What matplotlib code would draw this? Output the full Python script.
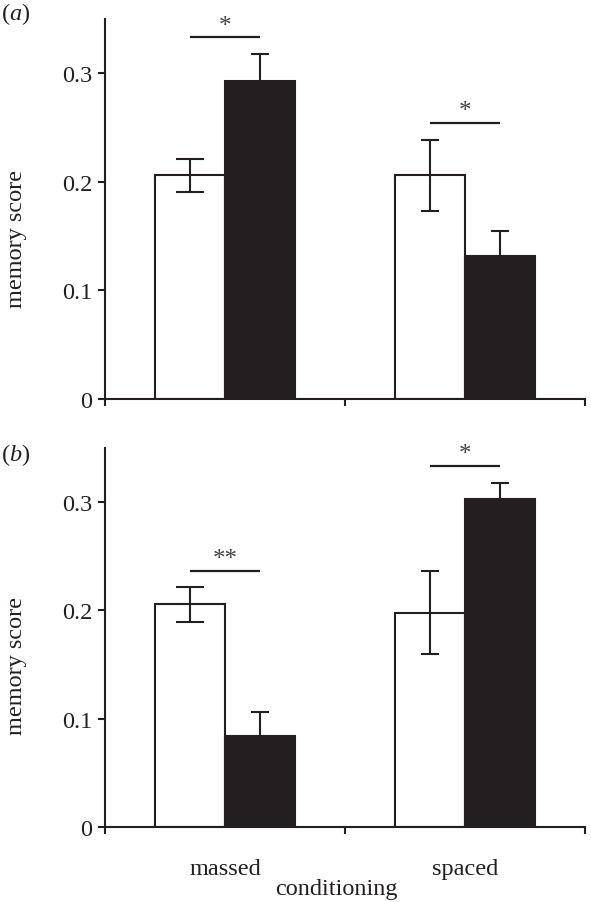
import matplotlib
matplotlib.use("Agg")
import matplotlib.pyplot as plt
import numpy as np

# ---- data ----
categories = ["massed", "spaced"]
a_white = [0.206, 0.206]
a_white_err = [0.015, 0.033]
a_black = [0.293, 0.132]
a_black_err = [0.025, 0.023]
b_white = [0.2055, 0.198]
b_white_err = [0.016, 0.038]
b_black = [0.084, 0.303]
b_black_err = [0.022, 0.015]
a_sig = ["*", "*"]
b_sig = ["**", "*"]
yticks = [0, 0.1, 0.2, 0.3]
ytick_labels = ["0", "0.1", "0.2", "0.3"]

plt.rcParams["font.family"] = ["Liberation Serif", "DejaVu Serif"]
plt.rcParams["mathtext.fontset"] = "custom"
plt.rcParams["mathtext.rm"] = "Liberation Serif"
plt.rcParams["mathtext.it"] = "Liberation Serif:italic"

INK = "#231f20"
FS = 17.5
W, H = 591, 903
fig = plt.figure(figsize=(W / 100, H / 100), dpi=100)

def panel(bottom_px, top_px, white, white_err, black, black_err, sig, show_x):
    ax = fig.add_axes([105 / W, 1 - bottom_px / H, 480 / W, (bottom_px - top_px) / H])
    x = np.arange(len(categories)) + 0.5
    bw = 0.29
    xw = x - bw / 2
    xb = x + bw / 2
    ax.bar(xw, white, width=bw, color="white", edgecolor=INK, linewidth=1.5, zorder=2)
    ax.bar(xb, black, width=bw, color=INK, edgecolor=INK, linewidth=1.5, zorder=2)
    caps = [10, 6.5]
    for i in range(len(categories)):
        ax.errorbar(xw[i], white[i], yerr=white_err[i], fmt="none", ecolor=INK,
                    elinewidth=1.5, capsize=caps[i], capthick=1.5, zorder=3)
        ax.errorbar(xb[i], black[i], yerr=black_err[i], fmt="none", ecolor=INK,
                    elinewidth=1.5, capsize=6.5, capthick=1.5, zorder=3)
        top = max(white[i] + white_err[i], black[i] + black_err[i]) + 0.015
        ax.plot([xw[i], xb[i]], [top, top], color=INK, lw=1.6, solid_capstyle="butt")
        ax.text(x[i], top + 0.011, sig[i], ha="center", va="center",
                fontsize=18, color="#444444")
    ax.set_xlim(0, 2)
    ax.set_ylim(0, 0.35)
    for s in ["top", "right"]:
        ax.spines[s].set_visible(False)
    for s in ["left", "bottom"]:
        ax.spines[s].set_linewidth(1.5)
        ax.spines[s].set_color(INK)
    ax.set_yticks(yticks)
    ax.set_yticklabels(ytick_labels, fontsize=FS, color=INK)
    ax.tick_params(axis="y", direction="out", length=5, width=1.5, color=INK, pad=4)
    ax.set_xticks([0, 1, 2])
    ax.set_xticklabels([])
    ax.tick_params(axis="x", which="major", direction="out", length=5, width=1.5, color=INK)
    ax.set_xticks(x, minor=True)
    if show_x:
        ax.set_xticklabels(categories, minor=True, fontsize=FS, color=INK)
    else:
        ax.set_xticklabels([], minor=True)
    ax.tick_params(axis="x", which="minor", length=0, pad=22)
    return ax

panel(400, 20, a_white, a_white_err, a_black, a_black_err, a_sig, False)
panel(828, 449, b_white, b_white_err, b_black, b_black_err, b_sig, True)

fig.text(17 / W, 1 - 239 / H, "memory score", rotation=90, ha="center", va="center",
         fontsize=FS, color=INK)
fig.text(17 / W, 1 - 666 / H, "memory score", rotation=90, ha="center", va="center",
         fontsize=FS, color=INK)
fig.text(1 / W, 1 - 14 / H, r"($\mathit{a}$)", ha="left", va="center", fontsize=FS, color=INK)
fig.text(1 / W, 1 - 455 / H, r"($\mathit{b}$)", ha="left", va="center", fontsize=FS, color=INK)
fig.text(336 / W, 8 / H, "conditioning", ha="center", va="baseline", fontsize=FS, color=INK)

fig.savefig("out.png", dpi=100, facecolor="white")
